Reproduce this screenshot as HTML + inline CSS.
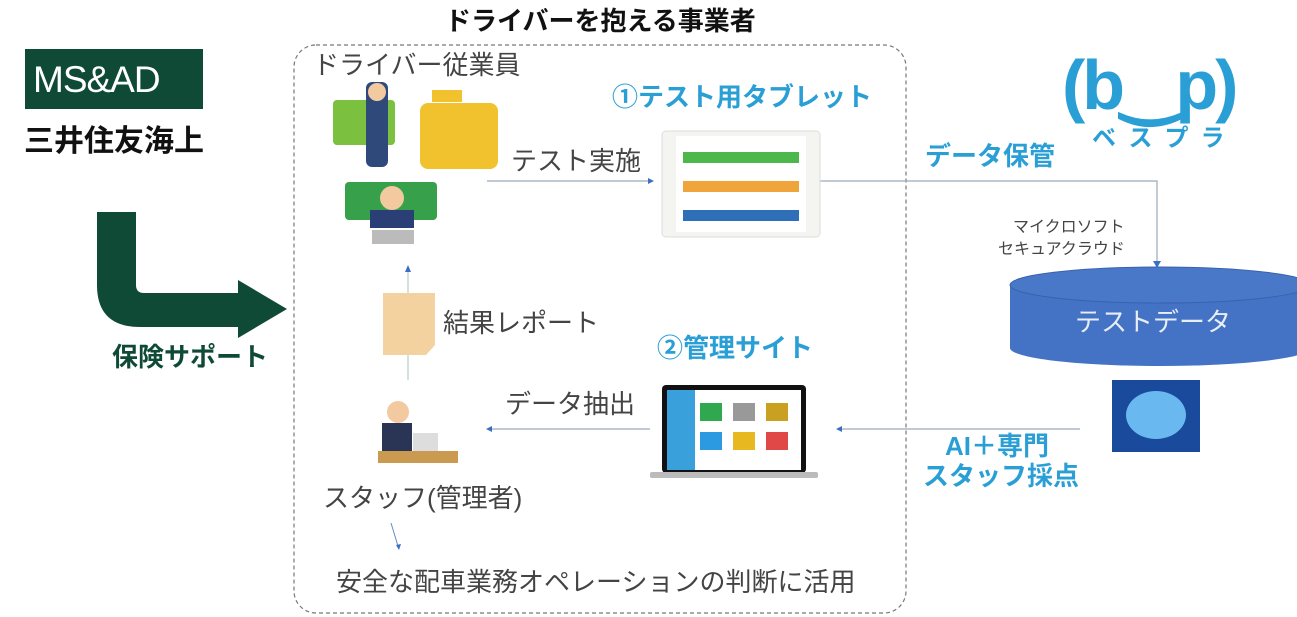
<!DOCTYPE html>
<html><head><meta charset="utf-8"><style>
body{margin:0;width:1297px;height:617px;background:#fff;position:relative;overflow:hidden;font-family:"Liberation Sans","Noto Sans CJK JP",sans-serif}
.t{position:absolute;white-space:nowrap;line-height:1}
.b{font-weight:bold}
.blue{color:#2a9fd6}
.g{color:#444}
</style></head><body>
<svg width="1297" height="617" style="position:absolute;left:0;top:0">
<rect x="294" y="45" width="612" height="568" rx="22" fill="none" stroke="#777" stroke-dasharray="4,3" stroke-width="1.2"/>
<rect x="25" y="49" width="178" height="60" fill="#0f4a36"/>
<path d="M97 212 H136 V285 Q136 293 144 293 H238 V280 L287 309 L238 338 V327 H140 Q97 327 97 285 Z" fill="#0f4a36"/>
<line x1="487" y1="181" x2="648" y2="181" stroke="#9ab" stroke-width="1.2"/>
<path d="M648 178 L654 181 L648 184Z" fill="#3a6fc4"/>
<polyline points="820,181 1157,181 1157,262" fill="none" stroke="#9ab" stroke-width="1.2"/>
<path d="M1153 261 L1157 268 L1161 261Z" fill="#3a6fc4"/>
<line x1="408" y1="270" x2="408" y2="380" stroke="#bcc" stroke-width="1.2"/>
<path d="M405 272 L408 265 L411 272Z" fill="#3a6fc4"/>
<line x1="490" y1="429" x2="650" y2="429" stroke="#9ab" stroke-width="1.2"/>
<path d="M492 426 L486 429 L492 432Z" fill="#3a6fc4"/>
<line x1="840" y1="429" x2="1080" y2="429" stroke="#9ab" stroke-width="1.2"/>
<path d="M842 426 L836 429 L842 432Z" fill="#3a6fc4"/>
<line x1="391" y1="523" x2="398" y2="546" stroke="#6a8ac4" stroke-width="1"/>
<path d="M396 545 L399 550 L401 544Z" fill="#3a6fc4"/>
<path d="M1010 285 V348 A150 18 0 0 0 1310 348 V285 Z" fill="#4472c4"/>
<ellipse cx="1160" cy="285" rx="150" ry="18" fill="#4a78c8" stroke="#3a62ad" stroke-width="1"/>
<rect x="662" y="131" width="158" height="106" rx="4" fill="#f4f4f0" stroke="#ddd"/>
<rect x="676" y="136" width="130" height="96" fill="#fff"/>
<rect x="683" y="152" width="116" height="11" fill="#4cb84c"/>
<rect x="683" y="181" width="116" height="11" fill="#f0a43c"/>
<rect x="683" y="210" width="116" height="11" fill="#2f6fb8"/>
<rect x="662" y="385" width="144" height="88" rx="4" fill="#111"/>
<rect x="667" y="390" width="134" height="80" fill="#fff"/>
<rect x="667" y="390" width="28" height="80" fill="#39a0dc"/>
<rect x="700" y="403" width="22" height="18" fill="#2fa84f"/><rect x="733" y="403" width="22" height="18" fill="#999"/><rect x="766" y="403" width="22" height="18" fill="#c9a020"/>
<rect x="700" y="432" width="22" height="18" fill="#2b9ae0"/><rect x="733" y="432" width="22" height="18" fill="#e8b820"/><rect x="766" y="432" width="22" height="18" fill="#e04848"/>
<rect x="650" y="472" width="168" height="6" rx="2" fill="#bbb"/>
<path d="M383 293 H435 V345 L426 355 H383Z" fill="#f3d2a0"/>
<rect x="1112" y="380" width="88" height="72" fill="#1a4a9c"/>
<ellipse cx="1156" cy="415" rx="30" ry="24" fill="#6ab8f0"/>
<rect x="333" y="100" width="62" height="45" rx="4" fill="#7cc040"/>
<rect x="366" y="82" width="22" height="85" rx="6" fill="#2f4a7a"/>
<circle cx="377" cy="92" r="9" fill="#f3c9a0"/>
<rect x="420" y="103" width="78" height="66" rx="8" fill="#f2c12e"/>
<rect x="432" y="90" width="30" height="12" fill="#f2c12e"/>
<rect x="345" y="182" width="92" height="38" rx="4" fill="#36a04a"/>
<circle cx="392" cy="198" r="12" fill="#f3c9a0"/>
<rect x="370" y="210" width="44" height="18" fill="#2b3f77"/>
<rect x="372" y="230" width="42" height="14" fill="#bbb"/>
<circle cx="398" cy="412" r="11" fill="#f3c9a0"/>
<rect x="382" y="423" width="30" height="28" fill="#2a3555"/>
<rect x="413" y="433" width="25" height="18" fill="#ddd"/>
<rect x="378" y="451" width="80" height="12" fill="#c99a50"/>
</svg>
<div class="t" style="left:33px;top:61px;font-size:37px;color:#fff;letter-spacing:-1px">MS&amp;AD</div>
<div class="t b" style="left:24px;top:127px;font-size:30px;color:#111">三井住友海上</div>
<div class="t b" style="left:112px;top:344px;font-size:26px;color:#0f4a36">保険サポート</div>
<div class="t b" style="left:445px;top:8px;font-size:26px;color:#111">ドライバーを抱える事業者</div>
<div class="t g" style="left:313px;top:52px;font-size:26px">ドライバー従業員</div>
<div class="t b blue" style="left:612px;top:84px;font-size:26px">①テスト用タブレット</div>
<div class="t g" style="left:511px;top:148px;font-size:26px">テスト実施</div>
<div class="t b blue" style="left:925px;top:143px;font-size:26px">データ保管</div>
<div class="t b blue" style="left:1062px;top:50px;font-size:70px;letter-spacing:-3px">(b‿p)</div>
<div class="t b blue" style="left:1092px;top:127px;font-size:24px;letter-spacing:12px">ベスプラ</div>
<div class="t g" style="left:1013px;top:220px;font-size:16px">マイクロソフト</div>
<div class="t g" style="left:998px;top:242px;font-size:16px">セキュアクラウド</div>
<div class="t" style="left:1075px;top:309px;font-size:26px;color:#e8eef8">テストデータ</div>
<div class="t g" style="left:443px;top:310px;font-size:26px">結果レポート</div>
<div class="t b blue" style="left:657px;top:335px;font-size:26px">②管理サイト</div>
<div class="t g" style="left:505px;top:391px;font-size:26px">データ抽出</div>
<div class="t b blue" style="left:945px;top:433px;font-size:26px">AI＋専門</div>
<div class="t b blue" style="left:923px;top:463px;font-size:26px">スタッフ採点</div>
<div class="t g" style="left:323px;top:485px;font-size:26px">スタッフ(管理者)</div>
<div class="t g" style="left:336px;top:569px;font-size:26px">安全な配車業務オペレーションの判断に活用</div>
</body></html>
